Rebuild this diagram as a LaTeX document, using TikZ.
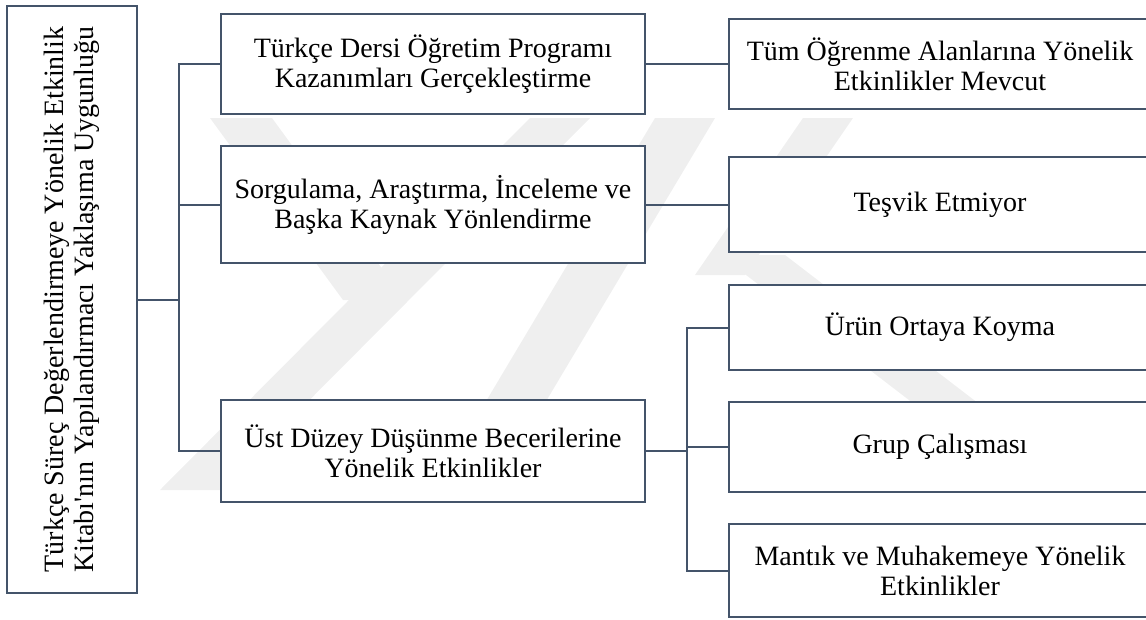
\documentclass[tikz,border=0pt]{standalone}
\usepackage{fontspec}
\setmainfont{Liberation Serif}
\usetikzlibrary{calc}

\definecolor{boxline}{RGB}{68,84,106}
\definecolor{wmark}{RGB}{239,239,239}

\tikzset{
    box/.style={draw=boxline, line width=2.5pt, fill=white, align=center, inner sep=0pt},
    link/.style={draw=boxline, line width=2pt},
}

\begin{document}
\begin{tikzpicture}[x=1pt, y=-1pt, font=\fontsize{28}{30}\selectfont]
        \useasboundingbox (0,0) rectangle (1146,619);

        % watermark
        \fill[wmark] (530,118) -- (590,118) -- (220,490) -- (160,490) -- cycle;
        \fill[wmark] (210,118) -- (272,118) -- (405,300) -- (343,300) -- cycle;
        \fill[wmark] (655,118) -- (715,118) -- (505,470) -- (445,470) -- cycle;
        \fill[wmark] (803,118) -- (853,118) -- (745,275) -- (695,275) -- cycle;
        \fill[wmark] (720,255) -- (785,255) -- (1000,420) -- (935,420) -- cycle;

        \node[box, minimum width=130, minimum height=587] (root) at (72,299.5)
            {\rotatebox{90}{\begin{tabular}{@{}c@{}}Türkçe Süreç Değerlendirmeye Yönelik Etkinlik\\Kitabı\textquotesingle nın Yapılandırmacı Yaklaşıma Uygunluğu\end{tabular}}};

        \node[box, minimum width=424, minimum height=100] (kazanim) at (433,64)
            {Türkçe Dersi Öğretim Programı\\Kazanımları Gerçekleştirme};
        \node[box, minimum width=424, minimum height=117] (sorgu) at (433,204.5)
            {Sorgulama, Araştırma, İnceleme ve\\Başka Kaynak Yönlendirme};
        \node[box, minimum width=424, minimum height=102] (ustduzey) at (433,451)
            {Üst Düzey Düşünme Becerilerine\\Yönelik Etkinlikler};

        \node[box, minimum width=422, minimum height=90] (alan) at (940,64)
            {Tüm Öğrenme Alanlarına Yönelik\\Etkinlikler Mevcut};
        \node[box, minimum width=422, minimum height=95] (tesvik) at (940,204.5)
            {Teşvik Etmiyor};
        \node[box, minimum width=422, minimum height=85] (urun) at (940,327.5)
            {Ürün Ortaya Koyma};
        \node[box, minimum width=422, minimum height=90] (grup) at (940,447)
            {Grup Çalışması};
        \node[box, minimum width=422, minimum height=93] (mantik) at (940,570.5)
            {Mantık ve Muhakemeye Yönelik\\Etkinlikler};

        \coordinate (t1) at (179,0);
        \coordinate (t2) at (687,0);

        \draw[link] (root.east) -- (root.east -| t1);
        \draw[link] (kazanim.west) -- (kazanim.west -| t1) -- (ustduzey.west -| t1) -- (ustduzey.west);
        \draw[link] (sorgu.west) -- (sorgu.west -| t1);

        \draw[link] (kazanim.east) -- (alan.west);
        \draw[link] (sorgu.east) -- (tesvik.west);

        \draw[link] (ustduzey.east) -- (ustduzey.east -| t2);
        \draw[link] (urun.west) -- (urun.west -| t2) -- (mantik.west -| t2) -- (mantik.west);
        \draw[link] (grup.west) -- (grup.west -| t2);

    \end{tikzpicture}
\end{document}
